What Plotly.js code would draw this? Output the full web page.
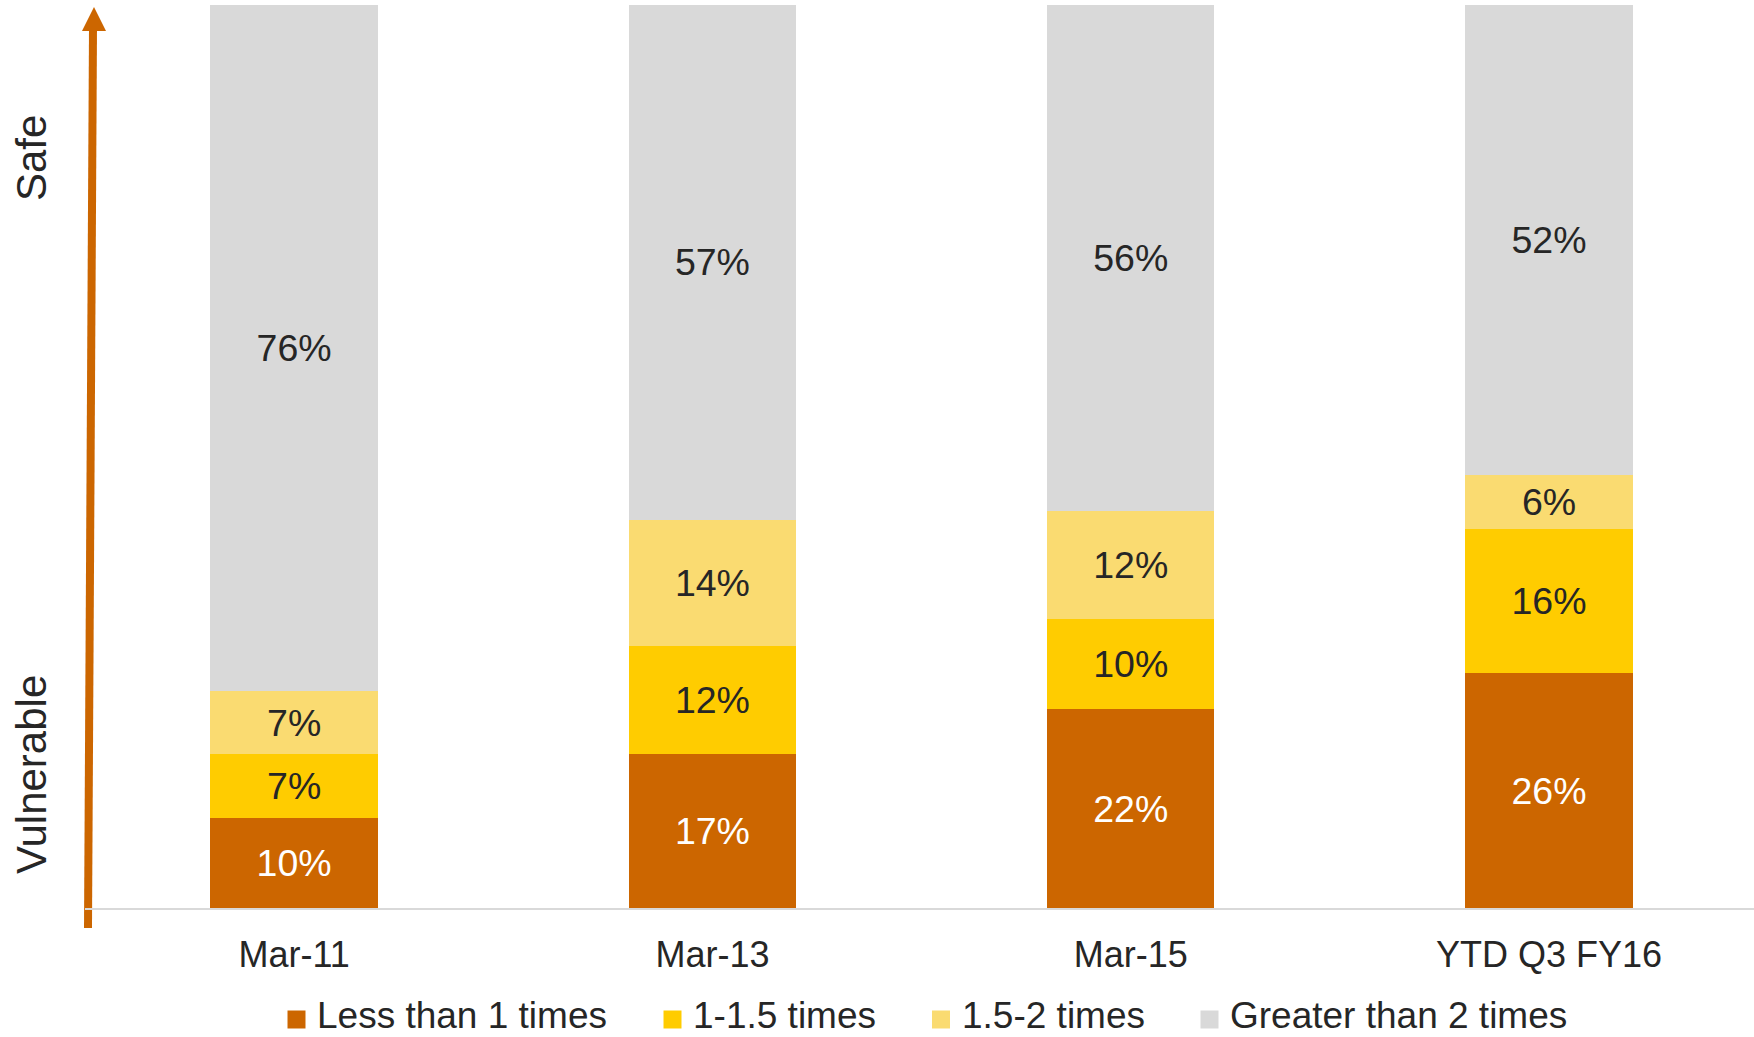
<!DOCTYPE html>
<html>
<head>
<meta charset="utf-8">
<script src="https://cdn.plot.ly/plotly-3.0.1.min.js"></script>
<style>
  html, body { margin: 0; padding: 0; background: #ffffff; }
  #chart { width: 1754px; height: 1037px; }
</style>
</head>
<body>
<div id="chart"></div>
<script>
// Share of companies by interest coverage band
var categories = ['Mar-11', 'Mar-13', 'Mar-15', 'YTD Q3 FY16'];
var lessThan1 = [10, 17, 22, 26];
var from1To1_5 = [7, 12, 10, 16];
var from1_5To2 = [7, 14, 12, 6];
var greaterThan2 = [76, 57, 56, 52];

var seriesNames = ['Less than 1 times', '1-1.5 times', '1.5-2 times', 'Greater than 2 times'];
var seriesValues = [lessThan1, from1To1_5, from1_5To2, greaterThan2];
var seriesColors = ['#CC6600', '#FFCC00', '#FADB71', '#D9D9D9'];
var labelColors = ['#FFFFFF', '#262626', '#262626', '#262626'];

var FONT = '"Liberation Sans", Arial, sans-serif';
var W = 1754, H = 1037;
var M = { l: 85, r: 0, t: 5, b: 129 };
var plotW = W - M.l - M.r;
var plotH = H - M.t - M.b;

// pixel -> paper helpers for the decorative arrow, captions and key row
function px(x) { return (x - M.l) / plotW; }
function py(y) { return (H - M.b - y) / plotH; }

var traces = seriesNames.map(function (name, i) {
  return {
    type: 'bar',
    name: name,
    x: categories,
    y: seriesValues[i],
    marker: { color: seriesColors[i], line: { width: 0 } },
    texttemplate: '%{y}%',
    textposition: 'inside',
    insidetextanchor: 'middle',
    constraintext: 'none',
    textfont: { family: FONT, size: 37.5, color: labelColors[i] },
    hoverinfo: 'skip'
  };
});

// Vulnerable -> Safe arrow
var shaftBottom = [88, 928], shaftTop = [93, 28];
var tip = [94, 7], headL = [82, 31], headR = [106, 31];

var shapes = [
  {
    type: 'line', xref: 'paper', yref: 'paper', layer: 'below',
    x0: px(shaftBottom[0]), y0: py(shaftBottom[1]),
    x1: px(shaftTop[0]), y1: py(shaftTop[1]),
    line: { color: '#CC6600', width: 8 }
  },
  {
    type: 'path', xref: 'paper', yref: 'paper', layer: 'below',
    path: 'M' + px(tip[0]) + ',' + py(tip[1]) +
          ' L' + px(headL[0]) + ',' + py(headL[1]) +
          ' L' + px(headR[0]) + ',' + py(headR[1]) + ' Z',
    fillcolor: '#CC6600',
    line: { width: 0 }
  }
];

var annotations = [
  {
    text: 'Safe', xref: 'paper', yref: 'paper',
    x: px(31), y: py(158), xanchor: 'center', yanchor: 'middle',
    textangle: -90, showarrow: false,
    font: { family: FONT, size: 42, color: '#262626' }
  },
  {
    text: 'Vulnerable', xref: 'paper', yref: 'paper',
    x: px(31), y: py(775), xanchor: 'center', yanchor: 'middle',
    textangle: -90, showarrow: false,
    font: { family: FONT, size: 42, color: '#262626' }
  }
];

// key row under the axis: swatch + series name
var keyCenterX = [296.5, 672.5, 941, 1209.5];
var keySwatchY = 1019.5;
var keyTextY = 1016;
var keyHalf = 9;
seriesNames.forEach(function (name, i) {
  shapes.push({
    type: 'rect', xref: 'paper', yref: 'paper', layer: 'above',
    x0: px(keyCenterX[i] - keyHalf), x1: px(keyCenterX[i] + keyHalf),
    y0: py(keySwatchY + keyHalf), y1: py(keySwatchY - keyHalf),
    fillcolor: seriesColors[i],
    line: { width: 0 }
  });
  annotations.push({
    text: name, xref: 'paper', yref: 'paper',
    x: px(keyCenterX[i] + 19.5), y: py(keyTextY),
    xanchor: 'left', yanchor: 'middle',
    borderpad: 0,
    showarrow: false,
    font: { family: FONT, size: 37, color: '#262626' }
  });
});

var layout = {
  width: W,
  height: H,
  margin: M,
  paper_bgcolor: '#ffffff',
  plot_bgcolor: '#ffffff',
  barmode: 'stack',
  bargap: 0.6,
  showlegend: false,
  font: { family: FONT, color: '#262626' },
  xaxis: {
    type: 'category',
    categoryarray: categories,
    range: [-0.5, 3.49],
    showline: true,
    linecolor: '#D9D9D9',
    linewidth: 2,
    showgrid: false,
    zeroline: false,
    ticks: '',
    ticklabelstandoff: 14,
    tickfont: { family: FONT, size: 36, color: '#262626' },
    fixedrange: true
  },
  yaxis: {
    range: [0, 100],
    visible: false,
    showgrid: false,
    zeroline: false,
    fixedrange: true
  },
  shapes: shapes,
  annotations: annotations
};

Plotly.newPlot('chart', traces, layout, { displayModeBar: false, staticPlot: true });
</script>
</body>
</html>
